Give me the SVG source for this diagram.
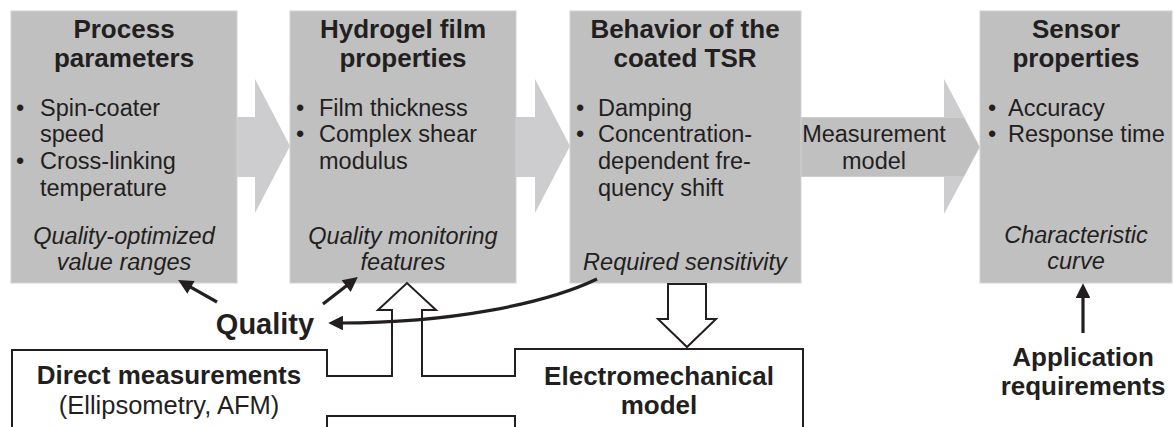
<svg xmlns="http://www.w3.org/2000/svg" width="1174" height="427" viewBox="0 0 1174 427">
<defs>
<style>
.box{fill:#c0c0c0;stroke:#d2d2d2;stroke-width:1}
.flow{fill:#cdcdcf}
.t{font-family:"Liberation Sans",Arial,sans-serif;fill:#231f20}
.title{font-size:26px;font-weight:bold;text-anchor:middle}
.item{font-size:23.5px}
.it{font-size:23.5px;font-style:italic;text-anchor:middle}
.ctr{text-anchor:middle}
.b{font-weight:bold}
.ln{fill:none;stroke:#231f20;stroke-width:3.2}
.hol{fill:#fff;stroke:#231f20;stroke-width:2;stroke-linejoin:miter;stroke-linecap:square}
</style>
<marker id="ah" viewBox="0 0 10 10" refX="2" refY="5" markerWidth="5" markerHeight="4.6" orient="auto" markerUnits="strokeWidth">
<path d="M0,0 L10,5 L0,10 z" fill="#231f20"/>
</marker>
</defs>
<rect width="1174" height="427" fill="#fff"/>

<g id="flow-arrows">
<polygon class="flow" points="237,117 255,117 255,79 290,146 255,213 255,177 237,177"/>
<polygon class="flow" points="516,117 535,117 535,79 570,146 535,213 535,177 516,177"/>
<polygon class="flow" points="801,117 944,117 944,79 980,147 944,214 944,177 801,177"/>
<polygon fill="#c0c0c0" points="801,118 964,118 979,147 964,176 801,176"/>
<text class="t item ctr" x="874" y="142">Measurement</text>
<text class="t item ctr" x="874" y="169">model</text>
</g>

<g id="process-parameters">
<rect class="box" x="11" y="11" width="226" height="272"/>
<text class="t title" x="124" y="38">Process</text>
<text class="t title" x="124" y="67">parameters</text>
<text class="t item" x="16" y="116">•</text>
<text class="t item" x="40" y="116">Spin-coater</text>
<text class="t item" x="40" y="142">speed</text>
<text class="t item" x="16" y="169">•</text>
<text class="t item" x="40" y="169">Cross-linking</text>
<text class="t item" x="40" y="196">temperature</text>
<text class="t it" x="124" y="244">Quality-optimized</text>
<text class="t it" x="124" y="270">value ranges</text>
</g>

<g id="hydrogel-film-properties">
<rect class="box" x="290" y="11" width="226" height="272"/>
<text class="t title" x="403" y="38">Hydrogel film</text>
<text class="t title" x="403" y="67">properties</text>
<text class="t item" x="296" y="116">•</text>
<text class="t item" x="319" y="116">Film thickness</text>
<text class="t item" x="296" y="142">•</text>
<text class="t item" x="319" y="142">Complex shear</text>
<text class="t item" x="319" y="169">modulus</text>
<text class="t it" x="403" y="244">Quality monitoring</text>
<text class="t it" x="403" y="270">features</text>
</g>

<g id="coated-tsr">
<rect class="box" x="570" y="11" width="231" height="272"/>
<text class="t title" x="685" y="38">Behavior of the</text>
<text class="t title" x="685" y="67">coated TSR</text>
<text class="t item" x="576" y="116">•</text>
<text class="t item" x="598" y="116">Damping</text>
<text class="t item" x="576" y="142">•</text>
<text class="t item" x="598" y="142">Concentration-</text>
<text class="t item" x="598" y="169">dependent fre-</text>
<text class="t item" x="598" y="196">quency shift</text>
<text class="t it" x="685" y="270">Required sensitivity</text>
</g>

<g id="sensor-properties">
<rect class="box" x="980" y="11" width="192" height="272"/>
<text class="t title" x="1076" y="38">Sensor</text>
<text class="t title" x="1076" y="67">properties</text>
<text class="t item" x="988" y="116">•</text>
<text class="t item" x="1008" y="116">Accuracy</text>
<text class="t item" x="988" y="142">•</text>
<text class="t item" x="1008" y="142">Response time</text>
<text class="t it" x="1076" y="243">Characteristic</text>
<text class="t it" x="1076" y="269">curve</text>
</g>

<g id="quality">
<text class="t b ctr" x="265" y="334" font-size="29">Quality</text>
</g>

<g id="application-requirements">
<text class="t title" x="1083" y="366">Application</text>
<text class="t title" x="1083" y="395">requirements</text>
</g>

<g id="direct-measurements">
<path class="hol" d="M12,440 V350 H327 V376 H392"/>
<text class="t title" x="169" y="384">Direct measurements</text>
<text class="t ctr" x="169" y="414" font-size="25.5">(Ellipsometry, AFM)</text>
</g>

<g id="electromechanical-model">
<path class="hol" d="M422,376 H515 V349 H803 V440"/>
<text class="t title" x="659" y="385">Electromechanical</text>
<text class="t title" x="659" y="414">model</text>
</g>

<g id="lower-box">
<path class="hol" d="M327,440 V416 H515 V440"/>
</g>

<g id="connectors">
<path class="hol" d="M392,376 V310 H378 L407,283 L436,310 H422 V376"/>
<path class="hol" d="M668,284 V319 H658 L687,347 L716,319 H706 V284 Z"/>
<line class="ln" x1="217" y1="302" x2="188.4" y2="285.9" marker-end="url(#ah)"/>
<line class="ln" x1="323" y1="304" x2="348.5" y2="284.3" marker-end="url(#ah)"/>
<path class="ln" d="M597,279 C545,304 450,323 340,323" marker-end="url(#ah)"/>
<line class="ln" x1="1083" y1="333" x2="1083" y2="295" marker-end="url(#ah)"/>
</g>
</svg>
